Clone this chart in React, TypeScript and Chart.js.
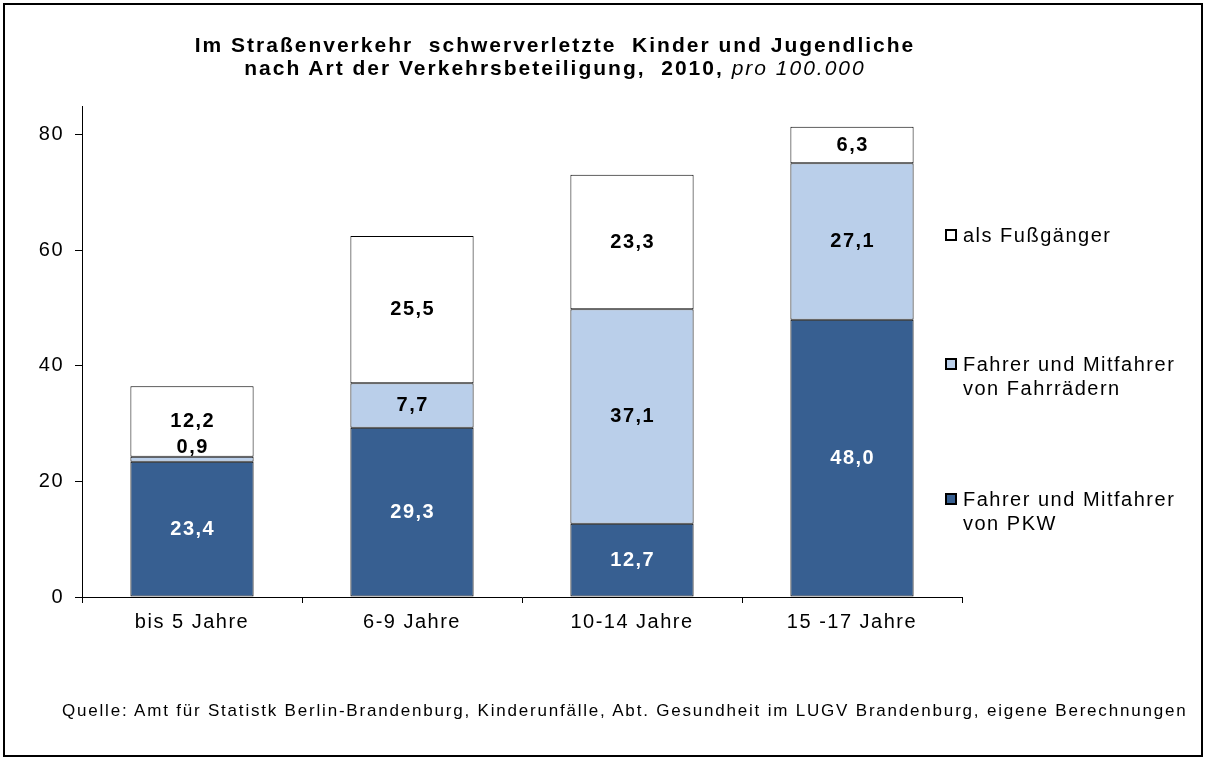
import React, { useEffect, useRef } from 'react';
import { Chart, registerables } from 'chart.js';

Chart.register(...registerables);

const categories = ['bis 5 Jahre', '6-9 Jahre', '10-14 Jahre', '15 -17 Jahre'];
const pkwValues = [23.4, 29.3, 12.7, 48.0];
const fahrradValues = [0.9, 7.7, 37.1, 27.1];
const fussValues = [12.2, 25.5, 23.3, 6.3];
const yTickValues = [0, 20, 40, 60, 80];
const seriesNames = ['Fahrer und Mitfahrer von PKW', 'Fahrer und Mitfahrer von Fahrrädern', 'als Fußgänger'];

const FONT = '"Liberation Sans", Arial, sans-serif';
const DARK = '#375F91';
const LIGHT = '#BACFEA';
const WHITE = '#FFFFFF';

const segLabels = {
  id: 'segLabels',
  afterDatasetsDraw(chart: any) {
    const ctx = chart.ctx;
    ctx.save();
    ctx.font = `bold 20px ${FONT}`;
    ctx.letterSpacing = '1.5px';
    ctx.textAlign = 'center';
    ctx.textBaseline = 'middle';
    const n = chart.data.labels.length;
    for (let c = 0; c < n; c++) {
      let prevTop = Infinity;
      chart.data.datasets.forEach((ds: any, i: number) => {
        const el = chart.getDatasetMeta(i).data[c];
        const v = ds.data[c];
        const h = el.base - el.y;
        let cy = (el.y + el.base) / 2;
        if (h < 20) cy = el.y - 9;
        if (cy + 10 > prevTop) cy = prevTop - 10;
        prevTop = cy - 10;
        ctx.fillStyle = i === 0 ? '#FFFFFF' : '#000000';
        ctx.fillText(v.toFixed(1).replace('.', ','), el.x + 0.75, cy);
      });
    }
    ctx.restore();
  },
};

const spacing = {
  id: 'spacing',
  beforeDraw(chart: any) {
    chart.ctx.letterSpacing = '1.5px';
  },
  afterDraw(chart: any) {
    chart.ctx.letterSpacing = '0px';
  },
};

function Legend() {
  const items = [
    { color: WHITE, lines: [seriesNames[2]], top: 229 },
    { color: LIGHT, lines: ['Fahrer und Mitfahrer', 'von Fahrrädern'], top: 358 },
    { color: DARK, lines: ['Fahrer und Mitfahrer', 'von PKW'], top: 493 },
  ];
  return (
    <>
      {items.map((it, k) => (
        <div key={k}>
          <div
            style={{
              position: 'absolute',
              left: 945,
              top: it.top,
              width: 12,
              height: 12,
              boxSizing: 'border-box',
              border: '2px solid #000',
              background: it.color,
            }}
          />
          <div
            style={{
              position: 'absolute',
              left: 963,
              top: it.top - 6,
              font: `20px ${FONT}`,
              letterSpacing: '1.5px',
              lineHeight: '24px',
              color: '#000',
              whiteSpace: 'nowrap',
            }}
          >
            {it.lines.map((l, j) => (
              <div key={j}>{l}</div>
            ))}
          </div>
        </div>
      ))}
    </>
  );
}

export default function App() {
  const ref = useRef<HTMLCanvasElement>(null);

  useEffect(() => {
    if (!ref.current) return;
    const chart = new Chart(ref.current, {
      type: 'bar',
      data: {
        labels: categories,
        datasets: [
          { label: seriesNames[0], data: pkwValues, backgroundColor: DARK },
          { label: seriesNames[1], data: fahrradValues, backgroundColor: LIGHT },
          { label: seriesNames[2], data: fussValues, backgroundColor: WHITE },
        ].map((d) => ({
          ...d,
          borderColor: '#000000',
          borderWidth: 1,
          borderSkipped: false,
          barPercentage: 0.56,
          categoryPercentage: 1.0,
        })),
      },
      options: {
        responsive: false,
        animation: false,
        layout: { padding: { top: 106, right: 245, left: 0, bottom: 0 } },
        plugins: { legend: { display: false }, tooltip: { enabled: false }, title: { display: false } },
        scales: {
          x: {
            stacked: true,
            offset: true,
            grid: { offset: true, drawOnChartArea: false, drawTicks: true, tickLength: 6, color: '#000' },
            border: { color: '#000', width: 1 },
            ticks: { color: '#000', font: { family: FONT, size: 20 }, padding: 7, maxRotation: 0 },
            afterFit: (s: any) => {
              s.height = 163;
            },
          },
          y: {
            stacked: true,
            min: 0,
            max: 85,
            grid: { drawOnChartArea: false, drawTicks: true, tickLength: 7, color: '#000' },
            border: { color: '#000', width: 1 },
            ticks: { color: '#000', font: { family: FONT, size: 20 }, padding: 11, stepSize: 20 },
            afterBuildTicks: (s: any) => {
              s.ticks = yTickValues.map((v) => ({ value: v }));
            },
            afterFit: (s: any) => {
              s.width = 82;
            },
          },
        },
      },
      plugins: [spacing, segLabels],
    });
    return () => chart.destroy();
  }, []);

  return (
    <div style={{ position: 'absolute', left: 0, top: 0, width: 1207, height: 760, background: '#fff', overflow: 'hidden' }}>
      <div
        style={{
          position: 'absolute',
          left: 3,
          top: 3,
          width: 1196,
          height: 750,
          border: '2px solid #000',
        }}
      />
      <canvas ref={ref} width={1207} height={760} style={{ position: 'absolute', left: 0, top: 0, width: 1207, height: 760 }} />
      <div
        style={{
          position: 'absolute',
          left: 0,
          top: 33,
          width: 1110,
          textAlign: 'center',
          font: `bold 21px ${FONT}`,
          letterSpacing: '2px',
          lineHeight: '23px',
          whiteSpace: 'pre',
          color: '#000',
        }}
      >
        <div>{'Im Straßenverkehr  schwerverletzte  Kinder und Jugendliche'}</div>
        <div>
          {'nach Art der Verkehrsbeteiligung,  2010, '}
          <span style={{ fontWeight: 'normal', fontStyle: 'italic' }}>pro 100.000</span>
        </div>
      </div>
      <Legend />
      <div
        style={{
          position: 'absolute',
          left: 62,
          top: 700,
          font: `17px ${FONT}`,
          letterSpacing: '1.8px',
          lineHeight: '22px',
          whiteSpace: 'nowrap',
          color: '#000',
        }}
      >
        Quelle: Amt für Statistk Berlin-Brandenburg, Kinderunfälle, Abt. Gesundheit im LUGV Brandenburg, eigene Berechnungen
      </div>
    </div>
  );
}
